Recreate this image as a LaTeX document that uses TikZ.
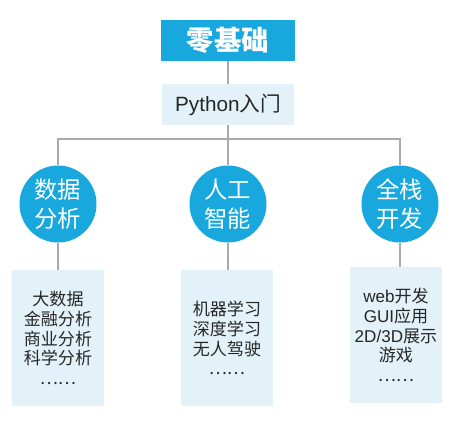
\documentclass[tikz,border=0pt]{standalone}
\usepackage{fontspec}
\setmainfont{Noto Sans CJK SC}
\newfontfamily\latinfont{Liberation Sans}
\definecolor{cyanblue}{RGB}{24,168,221}
\definecolor{paleblue}{RGB}{227,242,248}
\definecolor{linegray}{RGB}{170,170,170}
\tikzset{
  px/.style={x=0.75pt,y=-0.75pt},
  topbox/.style={rectangle,fill=cyanblue,text=white,minimum width=134*0.75pt,minimum height=41*0.75pt,inner sep=0pt,font=\fontsize{20.5}{24}\selectfont\bfseries},
  pybox/.style={rectangle,fill=paleblue,text=black!85,minimum width=132*0.75pt,minimum height=41*0.75pt,inner sep=0pt,font=\fontsize{15.5}{18}\selectfont},
  topic/.style={circle,fill=cyanblue,text=white,minimum size=77*0.75pt,inner sep=0pt,align=center,font=\fontsize{17.5}{21.5}\selectfont},
  listbox/.style={rectangle,fill=paleblue,text=black!85,minimum width=92*0.75pt,minimum height=136*0.75pt,inner sep=0pt,align=center,font=\fontsize{12.8}{14.8}\selectfont},
  conn/.style={draw=linegray,line width=2.2pt}
}
\begin{document}
\begin{tikzpicture}[px]
\useasboundingbox (0,0) rectangle (455,426);
\node[topbox] (top) at (228,40.5) {零基础};
\node[pybox] (py) at (228,104.5) {{\latinfont Python}入门};
\node[topic] (c1) at (58,204) {数据\\分析};
\node[topic] (c2) at (228,204) {人工\\智能};
\node[topic] (c3) at (400,204) {全栈\\开发};
\node[listbox] (b1) at (58,338) {大数据\\金融分析\\商业分析\\科学分析\\……};
\node[listbox] (b2) at (227,338) {机器学习\\深度学习\\无人驾驶\\……};
\node[listbox] (b3) at (396,335) {{\latinfont web}开发\\{\latinfont GUI}应用\\{\latinfont 2D/3D}展示\\游戏\\……};
\coordinate (bus) at (228,139);
\draw[conn] (top.south) -- (py.north);
\draw[conn] (py.south) -- (c2.north);
\draw[conn] (c1.north) -- (c1.north |- bus) -- (c3.north |- bus) -- (c3.north);
\draw[conn] (c1.south) -- (c1.south |- b1.north);
\draw[conn] (c2.south) -- (c2.south |- b2.north);
\draw[conn] (c3.south) -- (c3.south |- b3.north);
\end{tikzpicture}
\end{document}
